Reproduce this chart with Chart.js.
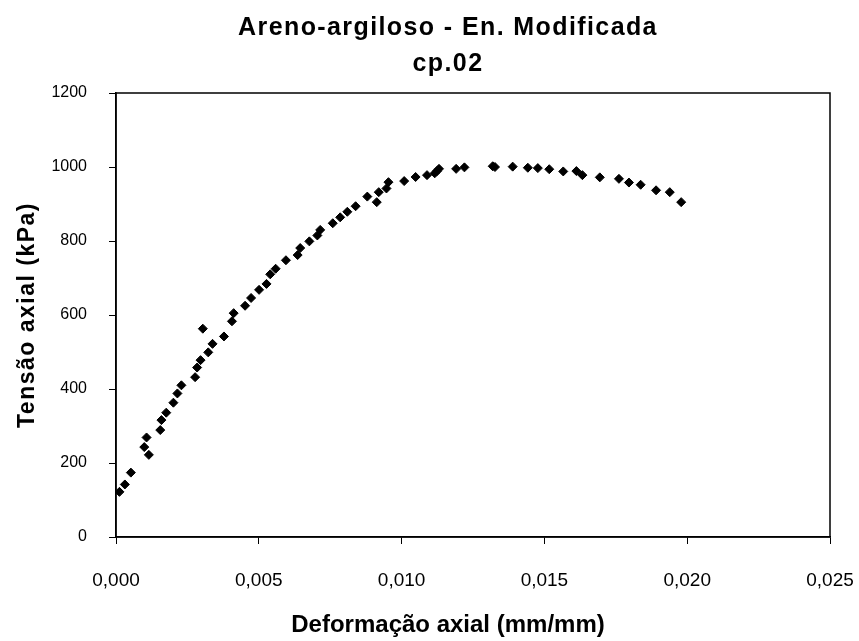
<!DOCTYPE html>
<html>
<head>
<meta charset="utf-8">
<script src="https://cdn.jsdelivr.net/npm/chart.js@4.4.1/dist/chart.umd.min.js"></script>
<style>
html,body{margin:0;padding:0;background:#fff;}
canvas{display:block;}
</style>
</head>
<body>
<canvas id="c" width="859" height="641"></canvas>
<script>
// Data
const strain = [0.00012,0.00031,0.00052,0.00099,0.00107,0.00115,0.00155,0.00159,0.00176,0.00201,
  0.00215,0.00229,0.00277,0.00284,0.00296,0.00304,0.00323,0.00338,0.00378,0.00406,
  0.00412,0.00452,0.00473,0.00501,0.00527,0.00540,0.00559,0.00595,0.00636,0.00645,
  0.00677,0.00705,0.00715,0.00759,0.00785,0.00810,0.00839,0.00880,0.00913,0.00920,
  0.00947,0.00954,0.01009,0.01049,0.01089,0.01116,0.01124,0.01131,0.01191,0.01220,
  0.01319,0.01327,0.01389,0.01442,0.01477,0.01517,0.01566,0.01612,0.01633,0.01694,
  0.01761,0.01796,0.01837,0.01891,0.01939,0.01979];
const stress = [122,142,174,243,269,222,289,316,336,363,
  388,410,432,458,478,563,499,522,542,583,
  605,625,646,668,684,710,725,748,762,781,
  799,815,830,848,864,879,894,920,905,932,
  942,959,962,973,978,983,989,995,995,999,
  1002,1000,1001,998,997,994,988,989,978,972,
  968,958,952,937,932,905];
const titleLines = ['Areno-argiloso - En. Modificada', 'cp.02'];
const xTitle = 'Deformação axial (mm/mm)';
const yTitle = 'Tensão axial (kPa)';
const xTicks = [0, 0.005, 0.010, 0.015, 0.020, 0.025];
const yTicks = [0, 200, 400, 600, 800, 1000, 1200];

const FONT = "'Liberation Sans', Arial, sans-serif";
const points = strain.map((x, i) => ({x: x, y: stress[i]}));

function withSpacing(obj, fnName, ctx, spacing) {
  if (obj['_sp_' + fnName]) return;
  const orig = obj[fnName].bind(obj);
  obj[fnName] = function(...args) {
    ctx.save();
    ctx.letterSpacing = spacing;
    orig(...args);
    ctx.restore();
  };
  obj['_sp_' + fnName] = true;
}

const layoutPlugin = {
  id: 'layoutTweaks',
  afterLayout(chart) {
    // Excel centres the chart titles on the whole chart width (incl. axis title)
    const t = chart.titleBlock;
    if (t) {
      t.left = 37; t.right = 859; t.width = 822;
      withSpacing(t, 'draw', chart.ctx, '1.4px');
    }
    withSpacing(chart.scales.y, 'drawTitle', chart.ctx, '1.5px');
  },
  afterDraw(chart) {
    const a = chart.chartArea, ctx = chart.ctx;
    ctx.save();
    ctx.strokeStyle = '#000';
    ctx.lineWidth = 1.5;
    ctx.strokeRect(a.left, a.top, a.right - a.left, a.bottom - a.top);
    // x-axis title, centred like the chart title
    ctx.fillStyle = '#000';
    ctx.font = "bold 24px " + FONT;
    ctx.textAlign = 'center';
    ctx.textBaseline = 'middle';
    ctx.fillText(xTitle, 448, 625);
    ctx.restore();
  }
};

new Chart(document.getElementById('c'), {
  type: 'scatter',
  data: {
    datasets: [{
      data: points,
      pointStyle: 'rectRot',
      pointRadius: 4.5,
      backgroundColor: '#000',
      borderColor: '#000',
      borderWidth: 1
    }]
  },
  options: {
    responsive: false,
    animation: false,
    devicePixelRatio: 1,
    layout: {padding: {left: 0, right: 29, top: 0, bottom: 0}},
    plugins: {
      legend: {display: false},
      tooltip: {enabled: false},
      title: {
        display: true,
        text: titleLines,
        color: '#000',
        font: {family: FONT, size: 25, weight: 'bold', lineHeight: 1.44},
        padding: {top: 10, bottom: 11}
      }
    },
    scales: {
      x: {
        type: 'linear',
        min: 0, max: 0.025,
        afterBuildTicks: s => { s.ticks = xTicks.map(v => ({value: v})); },
        afterFit: s => { s.height = 104; s.paddingRight = 0; s.paddingLeft = 0; },
        border: {display: true, color: '#000', width: 1.5},
        grid: {display: true, drawOnChartArea: false, drawTicks: true, tickLength: 7, color: '#000', tickColor: '#000', tickWidth: 1},
        ticks: {
          color: '#000',
          font: {family: FONT, size: 19},
          padding: 25,
          maxRotation: 0,
          callback: v => v.toFixed(3).replace('.', ',')
        },
        title: {display: false, text: xTitle}
      },
      y: {
        type: 'linear',
        min: 0, max: 1200,
        afterBuildTicks: s => { s.ticks = yTicks.map(v => ({value: v})); },
        afterFit: s => { s.width = 116; s.paddingTop = 0; s.paddingBottom = 0; },
        border: {display: true, color: '#000', width: 1.5},
        grid: {display: true, drawOnChartArea: false, drawTicks: true, tickLength: 7, color: '#000', tickColor: '#000', tickWidth: 1},
        ticks: {
          color: '#000',
          font: {family: FONT, size: 16},
          padding: 22,
          callback: v => String(v)
        },
        title: {
          display: true,
          text: yTitle,
          color: '#000',
          font: {family: FONT, size: 23, weight: 'bold', lineHeight: 1.2},
          padding: {top: 14, bottom: 0}
        }
      }
    }
  },
  plugins: [layoutPlugin]
});
</script>
</body>
</html>
